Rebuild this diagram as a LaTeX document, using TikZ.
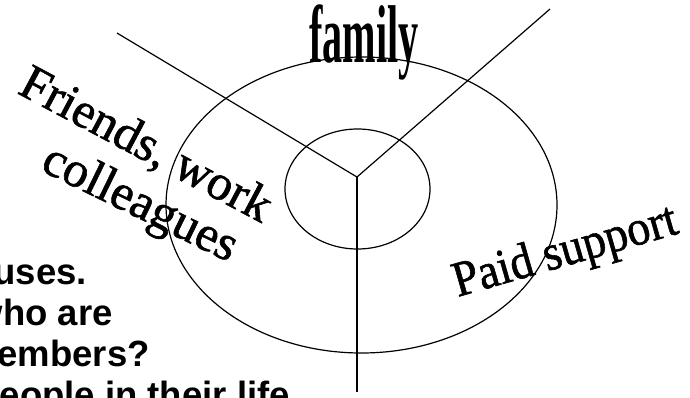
\documentclass[tikz,border=0pt]{standalone}
\usepackage{fontspec}
\setmainfont{Liberation Serif}
\newfontfamily\sectorfont[FakeBold=1.2]{Liberation Serif}
\newfontfamily\notefont{Liberation Sans}

\begin{document}
\begin{tikzpicture}[x=1pt, y=-1pt,
        ring/.style={line width=1.2pt},
        spoke/.style={line width=1.2pt},
        sector/.style={inner sep=0pt, anchor=base, font=\sectorfont\fontsize{50}{56}\selectfont},
        note/.style={inner sep=0pt, anchor=base east, font=\notefont\bfseries\fontsize{36.5}{40}\selectfont}]
        \useasboundingbox (0,0) rectangle (690,397);
        \clip (0,0) rectangle (690,397);
        % the two rings
        \draw[ring] (361.5,205) ellipse [x radius=195.5, y radius=148];
        \draw[ring] (357.5,189) ellipse [x radius=72.5, y radius=60];
        % spokes from the hub
        \coordinate (hub) at (357,177);
        \coordinate (tipL) at (117,33);
        \coordinate (tipR) at (550,9);
        \coordinate (tipD) at (357,392);
        \draw[spoke] (tipL) -- (hub) -- (tipR);
        \draw[spoke] (hub) -- (tipD);
        % sector labels
        \node[sector, font=\bfseries\fontsize{82}{82}\selectfont, xscale=0.49] (family) at (364,62) {family};
        \node[sector, rotate=-28] (friends) at (139,158) {Friends, work};
        \node[sector, rotate=-26] (colleagues) at (134,216) {colleagues};
        \node[sector, font=\sectorfont\fontsize{50}{56}\selectfont, rotate=16, xscale=0.92] (paid) at (569,265) {Paid support};
        % text running in from the left edge
        \node[note] (uses) at (87,284) {uses.};
        \node[note] (whoare) at (113,325) {who are};
        \node[note] (members) at (150,366) {members?};
        \node[note] (people) at (290,407) {people in their life};
    \end{tikzpicture}
\end{document}
